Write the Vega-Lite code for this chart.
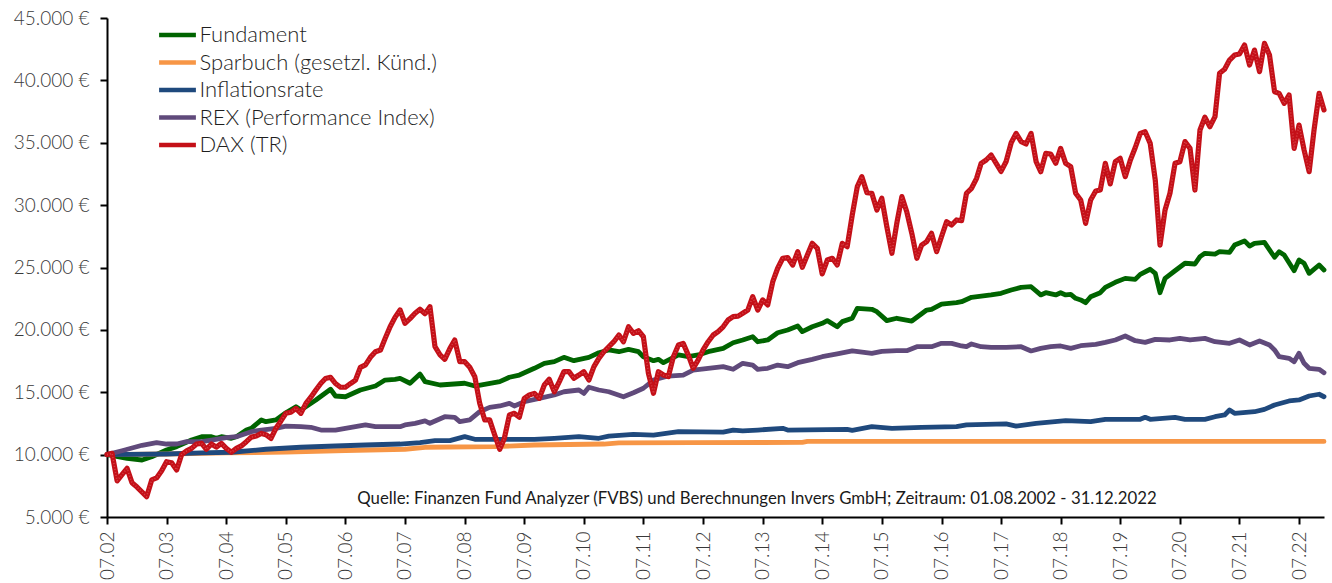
{
  "$schema": "https://vega.github.io/schema/vega-lite/v6.json",
  "width": 1217,
  "height": 499,
  "autosize": {"type": "none"},
  "padding": {"left": 107, "top": 18, "right": 8, "bottom": 66},
  "background": "white",
  "config": {
    "view": {"stroke": null},
    "font": "Lato",
    "axis": {"domainColor": "#000000", "domainWidth": 2, "tickColor": "#000000", "tickWidth": 2, "tickSize": 7, "labelFont": "Lato", "labelFontSize": 19, "labelFontWeight": 300, "labelColor": "#3a3a3a", "grid": false, "title": null},
    "legend": {"labelFont": "Lato", "labelFontSize": 22, "labelFontWeight": 300, "labelColor": "#1e1e1e", "labelLimit": 0}
  },
  "datasets": {
    "fund": [
      {"t":"2002-07","v":10000},{"t":"2002-11","v":9700},{"t":"2003-02","v":9570},{"t":"2003-04","v":9830},{"t":"2003-07","v":10370},{"t":"2003-09","v":10640},{"t":"2003-12","v":11170},{"t":"2004-02","v":11440},{"t":"2004-04","v":11440},{"t":"2004-05","v":11310},{"t":"2004-06","v":11440},{"t":"2004-08","v":11310},{"t":"2004-09","v":11440},{"t":"2004-11","v":11970},{"t":"2004-12","v":12110},{"t":"2005-02","v":12780},{"t":"2005-03","v":12640},{"t":"2005-05","v":12780},{"t":"2005-07","v":13360},{"t":"2005-09","v":13840},{"t":"2005-10","v":13580},{"t":"2006-01","v":14380},{"t":"2006-04","v":15240},{"t":"2006-05","v":14700},{"t":"2006-07","v":14640},{"t":"2006-10","v":15180},{"t":"2007-01","v":15500},{"t":"2007-03","v":15980},{"t":"2007-05","v":16040},{"t":"2007-06","v":16120},{"t":"2007-08","v":15720},{"t":"2007-10","v":16460},{"t":"2007-11","v":15850},{"t":"2008-02","v":15580},{"t":"2008-07","v":15720},{"t":"2008-09","v":15500},{"t":"2009-02","v":15850},{"t":"2009-04","v":16200},{"t":"2009-06","v":16380},{"t":"2009-09","v":16920},{"t":"2009-11","v":17320},{"t":"2010-01","v":17450},{"t":"2010-03","v":17800},{"t":"2010-05","v":17530},{"t":"2010-08","v":17800},{"t":"2010-10","v":18170},{"t":"2010-12","v":18390},{"t":"2011-02","v":18250},{"t":"2011-04","v":18440},{"t":"2011-06","v":18250},{"t":"2011-07","v":17850},{"t":"2011-09","v":17530},{"t":"2011-10","v":17640},{"t":"2011-11","v":17370},{"t":"2012-02","v":17990},{"t":"2012-04","v":17850},{"t":"2012-06","v":17990},{"t":"2012-08","v":18250},{"t":"2012-11","v":18520},{"t":"2013-01","v":18970},{"t":"2013-03","v":19190},{"t":"2013-05","v":19450},{"t":"2013-06","v":19050},{"t":"2013-08","v":19190},{"t":"2013-10","v":19770},{"t":"2013-12","v":19990},{"t":"2014-02","v":20310},{"t":"2014-03","v":19860},{"t":"2014-05","v":20250},{"t":"2014-07","v":20530},{"t":"2014-08","v":20740},{"t":"2014-10","v":20250},{"t":"2014-11","v":20660},{"t":"2015-01","v":20930},{"t":"2015-02","v":21730},{"t":"2015-05","v":21650},{"t":"2015-06","v":21460},{"t":"2015-08","v":20740},{"t":"2015-10","v":20930},{"t":"2016-01","v":20710},{"t":"2016-04","v":21590},{"t":"2016-05","v":21650},{"t":"2016-07","v":22070},{"t":"2016-10","v":22180},{"t":"2016-11","v":22260},{"t":"2017-01","v":22610},{"t":"2017-05","v":22800},{"t":"2017-07","v":22930},{"t":"2017-09","v":23200},{"t":"2017-11","v":23410},{"t":"2018-01","v":23460},{"t":"2018-03","v":22800},{"t":"2018-04","v":22980},{"t":"2018-06","v":22800},{"t":"2018-07","v":22980},{"t":"2018-08","v":22800},{"t":"2018-09","v":22850},{"t":"2018-10","v":22530},{"t":"2018-11","v":22400},{"t":"2018-12","v":22180},{"t":"2019-01","v":22660},{"t":"2019-03","v":22980},{"t":"2019-04","v":23410},{"t":"2019-06","v":23810},{"t":"2019-08","v":24130},{"t":"2019-10","v":24050},{"t":"2019-11","v":24450},{"t":"2020-01","v":24860},{"t":"2020-02","v":24530},{"t":"2020-03","v":22980},{"t":"2020-04","v":24130},{"t":"2020-06","v":24740},{"t":"2020-08","v":25340},{"t":"2020-10","v":25280},{"t":"2020-11","v":25870},{"t":"2020-12","v":26140},{"t":"2021-02","v":26080},{"t":"2021-03","v":26270},{"t":"2021-05","v":26220},{"t":"2021-06","v":26800},{"t":"2021-08","v":27130},{"t":"2021-09","v":26720},{"t":"2021-10","v":26940},{"t":"2021-12","v":27020},{"t":"2022-02","v":25820},{"t":"2022-03","v":26270},{"t":"2022-04","v":26000},{"t":"2022-06","v":24740},{"t":"2022-07","v":25600},{"t":"2022-08","v":25340},{"t":"2022-09","v":24530},{"t":"2022-11","v":25200},{"t":"2022-12","v":24800}
    ],
    "spar": [
      {"t":"2002-07","v":10000},{"t":"2003-07","v":10050},{"t":"2004-07","v":10140},{"t":"2005-07","v":10200},{"t":"2006-07","v":10330},{"t":"2007-07","v":10430},{"t":"2007-11","v":10590},{"t":"2009-01","v":10640},{"t":"2009-09","v":10770},{"t":"2010-11","v":10850},{"t":"2011-02","v":10940},{"t":"2012-05","v":10960},{"t":"2014-03","v":10980},{"t":"2014-04","v":11060},{"t":"2022-12","v":11060}
    ],
    "infl": [
      {"t":"2002-07","v":10000},{"t":"2003-07","v":10050},{"t":"2004-02","v":10140},{"t":"2004-08","v":10190},{"t":"2005-03","v":10430},{"t":"2005-10","v":10590},{"t":"2006-05","v":10690},{"t":"2006-11","v":10770},{"t":"2007-06","v":10850},{"t":"2007-10","v":10960},{"t":"2008-01","v":11120},{"t":"2008-04","v":11120},{"t":"2008-07","v":11440},{"t":"2008-09","v":11230},{"t":"2009-02","v":11230},{"t":"2009-09","v":11230},{"t":"2010-01","v":11310},{"t":"2010-06","v":11440},{"t":"2010-10","v":11310},{"t":"2010-12","v":11490},{"t":"2011-05","v":11630},{"t":"2011-09","v":11570},{"t":"2012-02","v":11840},{"t":"2012-11","v":11800},{"t":"2013-01","v":11970},{"t":"2013-03","v":11900},{"t":"2013-06","v":11970},{"t":"2013-11","v":12110},{"t":"2013-12","v":11970},{"t":"2014-12","v":12030},{"t":"2015-01","v":11950},{"t":"2015-05","v":12240},{"t":"2015-09","v":12110},{"t":"2016-03","v":12190},{"t":"2016-10","v":12240},{"t":"2016-12","v":12380},{"t":"2017-08","v":12460},{"t":"2017-10","v":12290},{"t":"2018-02","v":12510},{"t":"2018-08","v":12720},{"t":"2019-01","v":12640},{"t":"2019-04","v":12830},{"t":"2019-11","v":12830},{"t":"2019-12","v":12990},{"t":"2020-01","v":12830},{"t":"2020-06","v":12990},{"t":"2020-08","v":12830},{"t":"2020-12","v":12830},{"t":"2021-02","v":13040},{"t":"2021-04","v":13180},{"t":"2021-05","v":13580},{"t":"2021-06","v":13310},{"t":"2021-10","v":13440},{"t":"2021-12","v":13630},{"t":"2022-02","v":13980},{"t":"2022-05","v":14300},{"t":"2022-07","v":14380},{"t":"2022-09","v":14700},{"t":"2022-11","v":14840},{"t":"2022-12","v":14640}
    ],
    "rex": [
      {"t":"2002-07","v":10000},{"t":"2002-10","v":10310},{"t":"2003-02","v":10750},{"t":"2003-05","v":10960},{"t":"2003-07","v":10850},{"t":"2003-09","v":10850},{"t":"2003-11","v":11040},{"t":"2004-02","v":11040},{"t":"2004-04","v":11170},{"t":"2004-07","v":11360},{"t":"2004-09","v":11440},{"t":"2004-12","v":11840},{"t":"2005-02","v":11970},{"t":"2005-05","v":12110},{"t":"2005-07","v":12290},{"t":"2005-10","v":12240},{"t":"2005-12","v":12190},{"t":"2006-02","v":11970},{"t":"2006-05","v":11970},{"t":"2006-07","v":12110},{"t":"2006-11","v":12380},{"t":"2007-01","v":12240},{"t":"2007-04","v":12240},{"t":"2007-06","v":12240},{"t":"2007-07","v":12380},{"t":"2007-09","v":12510},{"t":"2007-11","v":12700},{"t":"2007-12","v":12510},{"t":"2008-03","v":13040},{"t":"2008-05","v":12990},{"t":"2008-06","v":12640},{"t":"2008-08","v":12780},{"t":"2008-10","v":13440},{"t":"2008-12","v":13790},{"t":"2009-02","v":13900},{"t":"2009-04","v":14110},{"t":"2009-05","v":13900},{"t":"2009-07","v":14240},{"t":"2009-10","v":14510},{"t":"2010-01","v":14780},{"t":"2010-03","v":15040},{"t":"2010-06","v":15180},{"t":"2010-07","v":14910},{"t":"2010-08","v":15400},{"t":"2010-10","v":15180},{"t":"2010-12","v":15040},{"t":"2011-03","v":14640},{"t":"2011-05","v":14960},{"t":"2011-07","v":15320},{"t":"2011-09","v":15980},{"t":"2011-12","v":16300},{"t":"2012-03","v":16380},{"t":"2012-05","v":16780},{"t":"2012-08","v":16920},{"t":"2012-11","v":17050},{"t":"2013-01","v":16840},{"t":"2013-03","v":17320},{"t":"2013-05","v":17180},{"t":"2013-06","v":16840},{"t":"2013-08","v":16920},{"t":"2013-10","v":17180},{"t":"2013-12","v":17050},{"t":"2014-02","v":17370},{"t":"2014-05","v":17640},{"t":"2014-07","v":17850},{"t":"2014-10","v":18070},{"t":"2015-01","v":18310},{"t":"2015-05","v":18120},{"t":"2015-07","v":18280},{"t":"2015-10","v":18330},{"t":"2015-12","v":18330},{"t":"2016-02","v":18650},{"t":"2016-05","v":18650},{"t":"2016-07","v":18920},{"t":"2016-09","v":18920},{"t":"2016-11","v":18710},{"t":"2016-12","v":18650},{"t":"2017-01","v":18870},{"t":"2017-03","v":18650},{"t":"2017-05","v":18600},{"t":"2017-08","v":18600},{"t":"2017-11","v":18650},{"t":"2018-01","v":18310},{"t":"2018-03","v":18520},{"t":"2018-05","v":18650},{"t":"2018-07","v":18710},{"t":"2018-09","v":18520},{"t":"2018-11","v":18730},{"t":"2019-02","v":18840},{"t":"2019-04","v":19000},{"t":"2019-06","v":19190},{"t":"2019-08","v":19510},{"t":"2019-10","v":19130},{"t":"2019-12","v":19000},{"t":"2020-02","v":19240},{"t":"2020-05","v":19190},{"t":"2020-07","v":19320},{"t":"2020-09","v":19190},{"t":"2020-12","v":19320},{"t":"2021-02","v":19050},{"t":"2021-05","v":18920},{"t":"2021-07","v":19190},{"t":"2021-09","v":18790},{"t":"2021-11","v":19110},{"t":"2022-01","v":18790},{"t":"2022-02","v":18390},{"t":"2022-03","v":17850},{"t":"2022-05","v":17720},{"t":"2022-06","v":17450},{"t":"2022-07","v":18120},{"t":"2022-08","v":17320},{"t":"2022-09","v":16920},{"t":"2022-11","v":16840},{"t":"2022-12","v":16570}
    ],
    "dax": [
      {"t":"2002-07","v":10000},{"t":"2002-08","v":10100},{"t":"2002-09","v":7900},{"t":"2002-10","v":8400},{"t":"2002-11","v":8900},{"t":"2002-12","v":7750},{"t":"2003-01","v":7400},{"t":"2003-02","v":7000},{"t":"2003-03","v":6630},{"t":"2003-04","v":7970},{"t":"2003-05","v":8130},{"t":"2003-06","v":8700},{"t":"2003-07","v":9430},{"t":"2003-08","v":9350},{"t":"2003-09","v":8770},{"t":"2003-10","v":10000},{"t":"2003-11","v":10300},{"t":"2003-12","v":10500},{"t":"2004-01","v":10850},{"t":"2004-02","v":10900},{"t":"2004-03","v":10430},{"t":"2004-04","v":10850},{"t":"2004-05","v":10600},{"t":"2004-06","v":10900},{"t":"2004-07","v":10500},{"t":"2004-08","v":10190},{"t":"2004-09","v":10500},{"t":"2004-10","v":10700},{"t":"2004-11","v":11040},{"t":"2004-12","v":11400},{"t":"2005-01","v":11490},{"t":"2005-02","v":11700},{"t":"2005-03","v":11600},{"t":"2005-04","v":11300},{"t":"2005-05","v":12110},{"t":"2005-06","v":12700},{"t":"2005-07","v":13310},{"t":"2005-08","v":13400},{"t":"2005-09","v":13710},{"t":"2005-10","v":13310},{"t":"2005-11","v":14110},{"t":"2005-12","v":14600},{"t":"2006-01","v":15180},{"t":"2006-02","v":15720},{"t":"2006-03","v":16100},{"t":"2006-04","v":16200},{"t":"2006-05","v":15700},{"t":"2006-06","v":15400},{"t":"2006-07","v":15400},{"t":"2006-08","v":15700},{"t":"2006-09","v":15980},{"t":"2006-10","v":17000},{"t":"2006-11","v":17200},{"t":"2006-12","v":17800},{"t":"2007-01","v":18250},{"t":"2007-02","v":18390},{"t":"2007-03","v":19300},{"t":"2007-04","v":20250},{"t":"2007-05","v":21000},{"t":"2007-06","v":21600},{"t":"2007-07","v":20530},{"t":"2007-08","v":20900},{"t":"2007-09","v":21330},{"t":"2007-10","v":21650},{"t":"2007-11","v":21300},{"t":"2007-12","v":21860},{"t":"2008-01","v":18650},{"t":"2008-02","v":18000},{"t":"2008-03","v":17640},{"t":"2008-04","v":18500},{"t":"2008-05","v":19190},{"t":"2008-06","v":17450},{"t":"2008-07","v":17450},{"t":"2008-08","v":17000},{"t":"2008-09","v":16250},{"t":"2008-10","v":14110},{"t":"2008-11","v":12780},{"t":"2008-12","v":12780},{"t":"2009-01","v":11570},{"t":"2009-02","v":10430},{"t":"2009-03","v":11300},{"t":"2009-04","v":13180},{"t":"2009-05","v":13310},{"t":"2009-06","v":13000},{"t":"2009-07","v":14510},{"t":"2009-08","v":14780},{"t":"2009-09","v":14910},{"t":"2009-10","v":14510},{"t":"2009-11","v":15580},{"t":"2009-12","v":16040},{"t":"2010-01","v":15040},{"t":"2010-02","v":15850},{"t":"2010-03","v":16650},{"t":"2010-04","v":16650},{"t":"2010-05","v":16120},{"t":"2010-06","v":16380},{"t":"2010-07","v":16650},{"t":"2010-08","v":15980},{"t":"2010-09","v":17050},{"t":"2010-10","v":17720},{"t":"2010-11","v":18250},{"t":"2010-12","v":18650},{"t":"2011-01","v":19050},{"t":"2011-02","v":19590},{"t":"2011-03","v":19050},{"t":"2011-04","v":20250},{"t":"2011-05","v":19720},{"t":"2011-06","v":19930},{"t":"2011-07","v":19450},{"t":"2011-08","v":16520},{"t":"2011-09","v":14920},{"t":"2011-10","v":16650},{"t":"2011-11","v":16380},{"t":"2011-12","v":16250},{"t":"2012-01","v":17850},{"t":"2012-02","v":18790},{"t":"2012-03","v":18920},{"t":"2012-04","v":17990},{"t":"2012-05","v":16920},{"t":"2012-06","v":17590},{"t":"2012-07","v":18390},{"t":"2012-08","v":19050},{"t":"2012-09","v":19590},{"t":"2012-10","v":19860},{"t":"2012-11","v":20250},{"t":"2012-12","v":20790},{"t":"2013-01","v":21060},{"t":"2013-02","v":21100},{"t":"2013-03","v":21330},{"t":"2013-04","v":21590},{"t":"2013-05","v":22660},{"t":"2013-06","v":21590},{"t":"2013-07","v":22400},{"t":"2013-08","v":22000},{"t":"2013-09","v":23860},{"t":"2013-10","v":24940},{"t":"2013-11","v":25740},{"t":"2013-12","v":25800},{"t":"2014-01","v":25200},{"t":"2014-02","v":26270},{"t":"2014-03","v":25020},{"t":"2014-04","v":26000},{"t":"2014-05","v":26940},{"t":"2014-06","v":26540},{"t":"2014-07","v":24480},{"t":"2014-08","v":25600},{"t":"2014-09","v":25740},{"t":"2014-10","v":25200},{"t":"2014-11","v":26940},{"t":"2014-12","v":26670},{"t":"2015-01","v":29210},{"t":"2015-02","v":31480},{"t":"2015-03","v":32280},{"t":"2015-04","v":31000},{"t":"2015-05","v":30950},{"t":"2015-06","v":29610},{"t":"2015-07","v":30550},{"t":"2015-08","v":28270},{"t":"2015-09","v":26140},{"t":"2015-10","v":28540},{"t":"2015-11","v":30680},{"t":"2015-12","v":29470},{"t":"2016-01","v":27740},{"t":"2016-02","v":25740},{"t":"2016-03","v":26800},{"t":"2016-04","v":27070},{"t":"2016-05","v":27740},{"t":"2016-06","v":26270},{"t":"2016-07","v":27470},{"t":"2016-08","v":28670},{"t":"2016-09","v":28410},{"t":"2016-10","v":28810},{"t":"2016-11","v":28750},{"t":"2016-12","v":30950},{"t":"2017-01","v":31350},{"t":"2017-02","v":32150},{"t":"2017-03","v":33350},{"t":"2017-04","v":33620},{"t":"2017-05","v":34020},{"t":"2017-06","v":33350},{"t":"2017-07","v":32700},{"t":"2017-08","v":33500},{"t":"2017-09","v":35000},{"t":"2017-10","v":35750},{"t":"2017-11","v":35090},{"t":"2017-12","v":34900},{"t":"2018-01","v":35750},{"t":"2018-02","v":33480},{"t":"2018-03","v":32680},{"t":"2018-04","v":34150},{"t":"2018-05","v":34100},{"t":"2018-06","v":33350},{"t":"2018-07","v":34550},{"t":"2018-08","v":33350},{"t":"2018-09","v":33080},{"t":"2018-10","v":30950},{"t":"2018-11","v":30410},{"t":"2018-12","v":28540},{"t":"2019-01","v":30410},{"t":"2019-02","v":31130},{"t":"2019-03","v":31210},{"t":"2019-04","v":33350},{"t":"2019-05","v":31700},{"t":"2019-06","v":33480},{"t":"2019-07","v":33750},{"t":"2019-08","v":32280},{"t":"2019-09","v":33600},{"t":"2019-10","v":34600},{"t":"2019-11","v":35750},{"t":"2019-12","v":35880},{"t":"2020-01","v":34950},{"t":"2020-02","v":32010},{"t":"2020-03","v":26800},{"t":"2020-04","v":29610},{"t":"2020-05","v":30950},{"t":"2020-06","v":33350},{"t":"2020-07","v":33480},{"t":"2020-08","v":35090},{"t":"2020-09","v":34550},{"t":"2020-10","v":31210},{"t":"2020-11","v":36020},{"t":"2020-12","v":37040},{"t":"2021-01","v":36290},{"t":"2021-02","v":37090},{"t":"2021-03","v":40570},{"t":"2021-04","v":40890},{"t":"2021-05","v":41630},{"t":"2021-06","v":42030},{"t":"2021-07","v":42110},{"t":"2021-08","v":42840},{"t":"2021-09","v":41230},{"t":"2021-10","v":42430},{"t":"2021-11","v":40700},{"t":"2021-12","v":42970},{"t":"2022-01","v":42030},{"t":"2022-02","v":39090},{"t":"2022-03","v":38960},{"t":"2022-04","v":38160},{"t":"2022-05","v":38830},{"t":"2022-06","v":34550},{"t":"2022-07","v":36420},{"t":"2022-08","v":34420},{"t":"2022-09","v":32680},{"t":"2022-10","v":36020},{"t":"2022-11","v":38960},{"t":"2022-12","v":37630}
    ],
    "note": [{"t":"2013-05-27","v":6450,"label":"Quelle: Finanzen Fund Analyzer (FVBS) und Berechnungen Invers GmbH; Zeitraum: 01.08.2002 - 31.12.2022"}]
  },
  "encoding": {
    "x": {
      "field": "t", "type": "temporal",
      "scale": {"type": "utc", "domain": [{"year": 2002, "month": 7, "date": 1, "utc": true}, {"year": 2022, "month": 12, "date": 1, "utc": true}]},
      "axis": {
        "values": [
          {"year":2002,"month":7,"date":1,"utc":true},{"year":2003,"month":7,"date":1,"utc":true},{"year":2004,"month":7,"date":1,"utc":true},{"year":2005,"month":7,"date":1,"utc":true},{"year":2006,"month":7,"date":1,"utc":true},{"year":2007,"month":7,"date":1,"utc":true},{"year":2008,"month":7,"date":1,"utc":true},{"year":2009,"month":7,"date":1,"utc":true},{"year":2010,"month":7,"date":1,"utc":true},{"year":2011,"month":7,"date":1,"utc":true},{"year":2012,"month":7,"date":1,"utc":true},{"year":2013,"month":7,"date":1,"utc":true},{"year":2014,"month":7,"date":1,"utc":true},{"year":2015,"month":7,"date":1,"utc":true},{"year":2016,"month":7,"date":1,"utc":true},{"year":2017,"month":7,"date":1,"utc":true},{"year":2018,"month":7,"date":1,"utc":true},{"year":2019,"month":7,"date":1,"utc":true},{"year":2020,"month":7,"date":1,"utc":true},{"year":2021,"month":7,"date":1,"utc":true},{"year":2022,"month":7,"date":1,"utc":true}
        ],
        "labelExpr": "utcFormat(datum.value, '%m.%y')",
        "labelAngle": -90, "labelAlign": "right", "labelBaseline": "middle", "labelPadding": 7, "labelOverlap": false, "labelColor": "#3a3a3a"
      }
    },
    "y": {
      "field": "v", "type": "quantitative",
      "scale": {"domain": [5000, 45000], "nice": false, "zero": false},
      "axis": {"values": [5000,10000,15000,20000,25000,30000,35000,40000,45000], "labelExpr": "replace(format(datum.value, ',.0f'), ',', '.') + ' €'", "labelPadding": 11, "labelColor": "#3a3a3a"}
    }
  },
  "layer": [
    {"data": {"name": "fund"}, "mark": {"type": "line", "strokeWidth": 4.8, "strokeJoin": "round", "strokeCap": "round"},
     "encoding": {"color": {"datum": "Fundament", "type": "nominal",
        "scale": {"domain": ["Fundament", "Sparbuch (gesetzl. Künd.)", "Inflationsrate", "REX (Performance Index)", "DAX (TR)"], "range": ["#006400", "#F79646", "#1F497D", "#604A7B", "#C41018"]},
        "legend": {"title": null, "orient": "none", "legendX": 56.5, "legendY": 3, "symbolType": "M-1.6,0H1.6", "symbolSize": 529, "symbolStrokeWidth": 4.5, "labelOffset": 8, "rowPadding": 2.5}}}},
    {"data": {"name": "spar"}, "mark": {"type": "line", "strokeWidth": 4.8, "strokeJoin": "round", "strokeCap": "round"},
     "encoding": {"color": {"datum": "Sparbuch (gesetzl. Künd.)", "type": "nominal"}}},
    {"data": {"name": "infl"}, "mark": {"type": "line", "strokeWidth": 4.8, "strokeJoin": "round", "strokeCap": "round"},
     "encoding": {"color": {"datum": "Inflationsrate", "type": "nominal"}}},
    {"data": {"name": "rex"}, "mark": {"type": "line", "strokeWidth": 4.8, "strokeJoin": "round", "strokeCap": "round"},
     "encoding": {"color": {"datum": "REX (Performance Index)", "type": "nominal"}}},
    {"data": {"name": "dax"}, "mark": {"type": "line", "strokeWidth": 5.2, "strokeJoin": "round", "strokeCap": "round"},
     "encoding": {"color": {"datum": "DAX (TR)", "type": "nominal"}}},
    {"data": {"name": "dax"}, "mark": {"type": "line", "strokeWidth": 1.6, "strokeDash": [1, 2], "color": "#E86A70", "opacity": 0.55, "strokeJoin": "round"},
     "encoding": {}},
    {"data": {"name": "note"}, "mark": {"type": "text", "fontSize": 16.8, "font": "Lato", "fontWeight": 400, "color": "#1a1a1a", "align": "center", "baseline": "middle"},
     "encoding": {"text": {"field": "label"}}}
  ]
}
